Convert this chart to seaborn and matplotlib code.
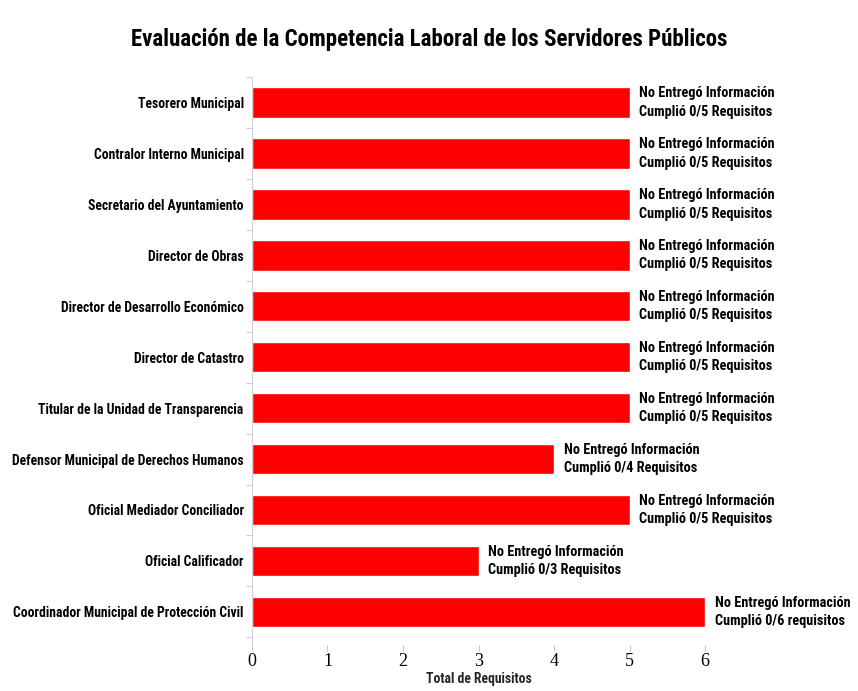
import numpy as np
import pandas as pd
import matplotlib
matplotlib.use("Agg")
import matplotlib.pyplot as plt
import seaborn as sns

# datos de la gráfica
puestos = [
    "Tesorero Municipal",
    "Contralor Interno Municipal",
    "Secretario del Ayuntamiento",
    "Director de Obras",
    "Director de Desarrollo Económico",
    "Director de Catastro",
    "Titular de la Unidad de Transparencia",
    "Defensor Municipal de Derechos Humanos",
    "Oficial Mediador Conciliador",
    "Oficial Calificador",
    "Coordinador Municipal de Protección Civil",
]
requisitos = [5, 5, 5, 5, 5, 5, 5, 4, 5, 3, 6]
cumplidos = [0, 0, 0, 0, 0, 0, 0, 0, 0, 0, 0]
palabra = ["Requisitos"] * 10 + ["requisitos"]
x_ticks = [0, 1, 2, 3, 4, 5, 6]

NARROW = ["Roboto Condensed", "DejaVu Sans"]
SERIF = ["Liberation Serif", "DejaVu Serif"]

sns.set_style("white")
plt.rcParams["font.family"] = NARROW
plt.rcParams["text.color"] = "black"
plt.rcParams["xtick.color"] = "black"
plt.rcParams["ytick.color"] = "black"

df = pd.DataFrame({"puesto": puestos, "total": requisitos})

# eje: de y=77 a y=645 px aprox.
fig = plt.figure(figsize=(8.58, 6.91), dpi=100)
ax = fig.add_axes([0.2937, 0.0666, 0.8217 - 0.2937, 0.8886 - 0.0666])

sns.barplot(data=df, y="puesto", x="total", color="#ff0000", saturation=1,
            orient="h", width=0.6, ax=ax)

for i, (tot, cum, w) in enumerate(zip(requisitos, cumplidos, palabra)):
    ax.annotate(f"No Entregó Información\nCumplió {cum}/{tot} {w}",
                xy=(tot, i), xytext=(7, 0), textcoords="offset points",
                ha="left", va="center", fontsize=10.3, fontweight="bold",
                linespacing=1.4, annotation_clip=False)

ax.set_xlim(0, 6)
ax.set_ylim(10.65, -0.5)
ax.set_xticks(x_ticks)
ax.set_xticklabels([str(t) for t in x_ticks], family=SERIF, fontsize=13)
ax.set_xlabel("Total de Requisitos", fontsize=9.8, fontweight="bold", labelpad=1)
ax.set_ylabel("")
for lab in ax.get_yticklabels():
    lab.set_fontsize(9.8)
    lab.set_fontweight("bold")

ax.set_yticks(np.arange(-0.5, 11, 1), minor=True)
ax.tick_params(axis="y", which="major", length=0, pad=6)
ax.tick_params(axis="y", which="minor", length=4, color="#c8c8c8", left=True)
ax.tick_params(axis="x", length=4, color="#c8c8c8", bottom=True, pad=2)

sns.despine(ax=ax, top=True, right=True, bottom=True)
ax.spines["left"].set_color("#d0d0d0")
ax.spines["left"].set_linewidth(0.8)

fig.suptitle("Evaluación de la Competencia Laboral de los Servidores Públicos",
             x=0.5, y=0.96, fontsize=16.5, fontweight="bold")

fig.savefig("out.png", dpi=100)
plt.close(fig)
